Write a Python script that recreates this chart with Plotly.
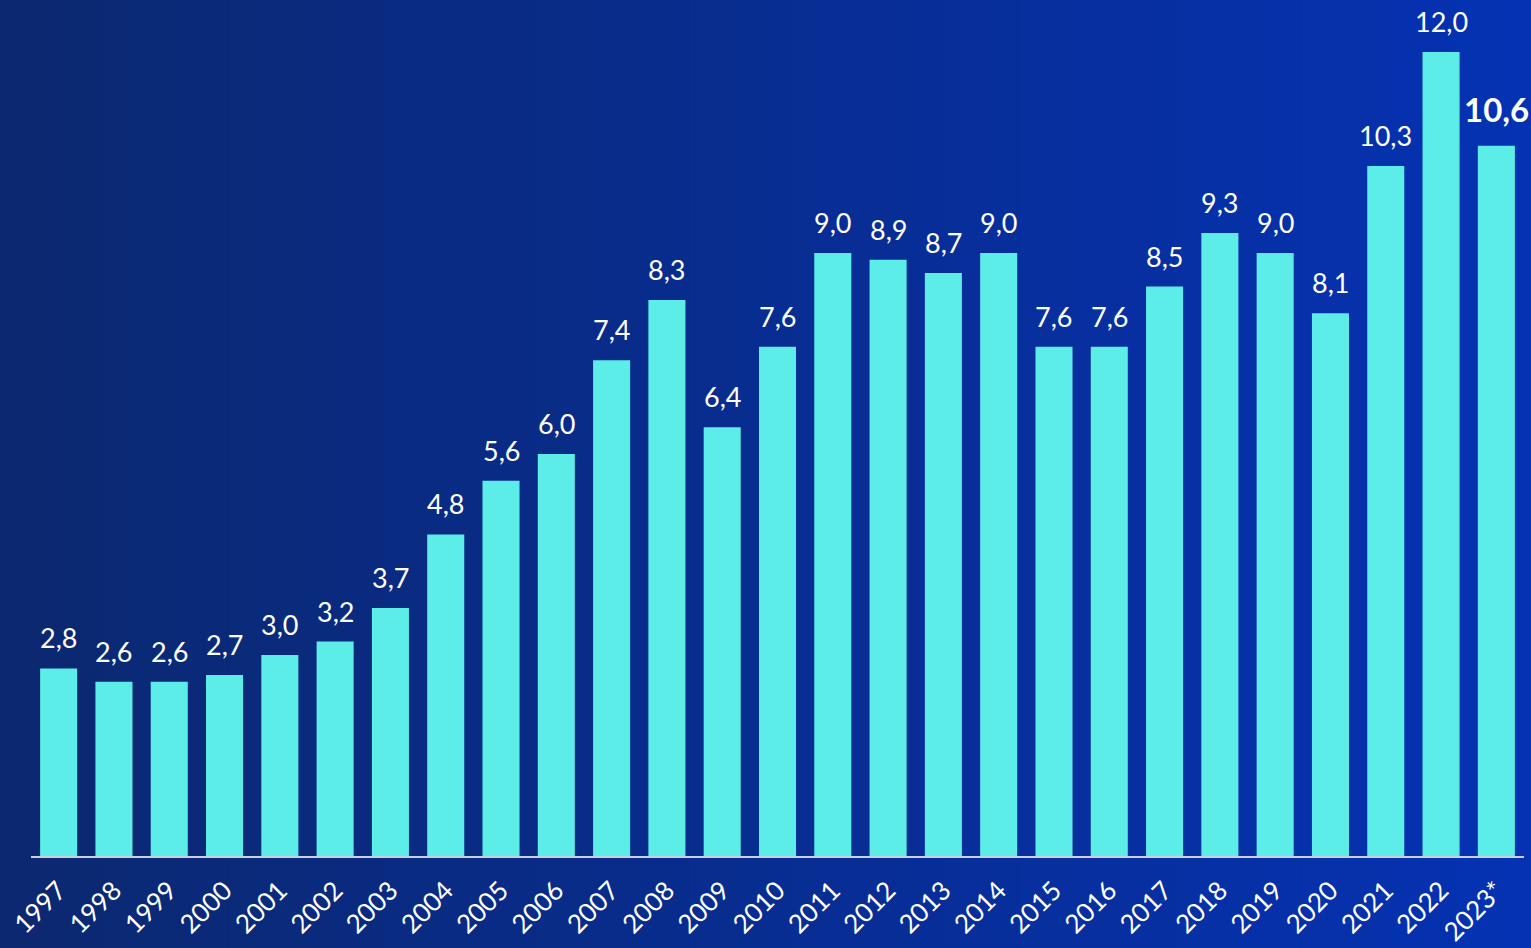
import plotly.graph_objects as go

years = ["1997", "1998", "1999", "2000", "2001", "2002", "2003", "2004", "2005",
         "2006", "2007", "2008", "2009", "2010", "2011", "2012", "2013", "2014",
         "2015", "2016", "2017", "2018", "2019", "2020", "2021", "2022", "2023*"]
values = [2.8, 2.6, 2.6, 2.7, 3.0, 3.2, 3.7, 4.8, 5.6, 6.0, 7.4, 8.3, 6.4, 7.6,
          9.0, 8.9, 8.7, 9.0, 7.6, 7.6, 8.5, 9.3, 9.0, 8.1, 10.3, 12.0, 10.6]
labels = [f"{v:.1f}".replace(".", ",") for v in values]

W, H = 1531, 948
ML, MR, MT, MB = 31, 7, 0, 92
plot_h = H - MT - MB
px_per_unit = 67.0
ymax = plot_h / px_per_unit

BAR = "#5CEDE8"
FONT = "Lato, 'Open Sans', sans-serif"

fig = go.Figure()
fig.add_trace(go.Bar(
    x=years, y=values,
    marker=dict(color=BAR, line=dict(width=0)),
    width=0.67,
    hoverinfo="x+y",
))

# background gradient (left darker navy -> right brighter blue)
pw = W - ML - MR
x0p = -ML / pw
x1p = 1 + MR / pw
y0p = -MB / plot_h
y1p = 1 + MT / plot_h
n = 60
c0 = (11, 40, 112)
c1 = (5, 50, 178)
shapes = []
for i in range(n):
    t = i / (n - 1)
    c = tuple(int(round(c0[k] + (c1[k] - c0[k]) * t)) for k in range(3))
    xa = x0p + (x1p - x0p) * i / n
    xb = x0p + (x1p - x0p) * (i + 1) / n + 0.001
    shapes.append(dict(type="rect", xref="paper", yref="paper",
                       x0=xa, x1=xb, y0=y0p - 0.01, y1=y1p + 0.01,
                       fillcolor=f"rgb{c}", line=dict(width=0), layer="below"))

annotations = []
for i, (v, lab) in enumerate(zip(values, labels)):
    last = i == len(values) - 1
    annotations.append(dict(
        x=i, y=v, xref="x", yref="y", text=f"<b>{lab}</b>" if last else lab,
        showarrow=False, yanchor="bottom", yshift=12 if not last else 15,
        font=dict(family=FONT, size=33 if last else 27, color="white",
                  weight=700 if last else 400),
    ))

fig.update_layout(
    width=W, height=H,
    margin=dict(l=ML, r=MR, t=MT, b=MB, pad=0),
    paper_bgcolor="rgb(8,44,140)",
    plot_bgcolor="rgba(0,0,0,0)",
    shapes=shapes,
    annotations=annotations,
    showlegend=False,
    bargap=0.33,
    xaxis=dict(
        type="category", range=[-0.5, len(years) - 0.5],
        tickangle=-45, tickfont=dict(family=FONT, size=26, color="white", weight=400),
        ticklabelstandoff=7,
        showline=True, linecolor="#C8CFDD", linewidth=2,
        showgrid=False, ticks="", zeroline=False, fixedrange=True,
    ),
    yaxis=dict(
        range=[0, ymax], visible=False, showgrid=False, zeroline=False,
        fixedrange=True,
    ),
)

fig.write_html(
    "out.html",
    config={"displayModeBar": False},
    post_script="document.body.style.margin='0';document.body.style.overflow='hidden';",
)
